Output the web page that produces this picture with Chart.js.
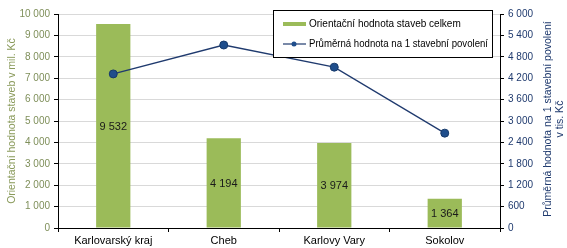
<!DOCTYPE html>
<html>
<head>
<meta charset="utf-8">
<script src="https://cdn.jsdelivr.net/npm/chart.js@4/dist/chart.umd.min.js"></script>
<style>
    html, body { margin: 0; padding: 0; background: #fff; }
    #wrap { width: 567px; height: 248px; }
</style>
</head>
<body>
<div id="wrap"><canvas id="chart"></canvas></div>
<script>
const categories = ["Karlovarský kraj", "Cheb", "Karlovy Vary", "Sokolov"];
const totalValues = [9532, 4194, 3974, 1364];
const averageValues = [4320, 5130, 4510, 2660];
const seriesNames = ["Orientační hodnota staveb celkem", "Průměrná hodnota na 1 stavební povolení"];
const rightTitle = ["Průměrná hodnota na 1 stavební povolení", "v tis. Kč"];

const FONT = "'Liberation Sans', Arial, sans-serif";
const fmt = v => String(v).replace(/\B(?=(\d{3})+(?!\d))/g, " ");

// bar values written in the middle of each bar
const barLabels = {
    id: "barLabels",
    afterDatasetsDraw(chart) {
        const ctx = chart.ctx;
        const meta = chart.getDatasetMeta(1);
        ctx.save();
        ctx.font = "11px " + FONT;
        ctx.fillStyle = "#1a1a1a";
        ctx.textAlign = "center";
        ctx.textBaseline = "middle";
        meta.data.forEach((bar, i) => {
            ctx.fillText(fmt(totalValues[i]), bar.x, (bar.y + bar.base) / 2 + 1);
        });
        ctx.restore();
    }
};

// right axis title, read bottom-to-top like the left one
const rightAxisTitle = {
    id: "rightAxisTitle",
    afterDraw(chart) {
        const ctx = chart.ctx;
        const area = chart.chartArea;
        const cy = (area.top + area.bottom) / 2 - 2;
        ctx.save();
        ctx.font = "10.5px " + FONT;
        ctx.fillStyle = "#1f3a6e";
        ctx.textAlign = "center";
        ctx.textBaseline = "middle";
        ctx.translate(548, cy);
        ctx.rotate(-Math.PI / 2);
        ctx.fillText(rightTitle[0], 0, 0);
        ctx.fillText(rightTitle[1], 0, 12);
        ctx.restore();
    }
};

// legend box inside the plot area
const boxLegend = {
    id: "boxLegend",
    afterDraw(chart) {
        const ctx = chart.ctx;
        const x = 273, y = 10, w = 219, h = 47;
        ctx.save();
        ctx.fillStyle = "#fff";
        ctx.fillRect(x, y, w, h);
        ctx.strokeStyle = "#000";
        ctx.lineWidth = 1;
        ctx.strokeRect(x + 0.5, y + 0.5, w, h);
        ctx.font = "10px " + FONT;
        ctx.textBaseline = "middle";
        // bar entry
        ctx.fillStyle = "#9bbb59";
        ctx.fillRect(x + 10, y + 12, 23, 4);
        ctx.fillStyle = "#000";
        ctx.fillText(seriesNames[0], x + 36, y + 14);
        // line entry
        ctx.strokeStyle = "#1f3a6e";
        ctx.lineWidth = 1.2;
        ctx.beginPath();
        ctx.moveTo(x + 10, y + 34);
        ctx.lineTo(x + 33, y + 34);
        ctx.stroke();
        ctx.fillStyle = "#1f4e8c";
        ctx.beginPath();
        ctx.arc(x + 21, y + 34, 2.5, 0, Math.PI * 2);
        ctx.fill();
        ctx.fillStyle = "#000";
        ctx.fillText(seriesNames[1], x + 36, y + 34, w - 40);
        ctx.restore();
    }
};

new Chart(document.getElementById("chart"), {
    type: "bar",
    data: {
        labels: categories,
        datasets: [
            {
                type: "line",
                label: seriesNames[1],
                data: averageValues,
                yAxisID: "y2",
                borderColor: "#1f3a6e",
                borderWidth: 1.3,
                pointRadius: 4,
                pointBackgroundColor: "#1f4e8c",
                pointBorderColor: "#173a6a",
                pointBorderWidth: 1,
                order: 0
            },
            {
                label: seriesNames[0],
                data: totalValues,
                yAxisID: "y",
                backgroundColor: "#9bbb59",
                categoryPercentage: 1,
                barPercentage: 0.31,
                order: 1
            }
        ]
    },
    options: {
        responsive: true,
        maintainAspectRatio: false,
        animation: false,
        layout: { padding: { top: 14, left: 6, right: 0, bottom: 0 } },
        plugins: {
            legend: { display: false },
            tooltip: { enabled: false }
        },
        scales: {
            x: {
                grid: { display: true, drawOnChartArea: false, color: "#000", tickLength: 4, offset: true },
                border: { color: "#000" },
                ticks: { color: "#000", font: { size: 11, family: FONT }, padding: 2, maxRotation: 0 },
                afterFit: s => { s.height = 20; }
            },
            y: {
                position: "left",
                min: 0, max: 10000,
                ticks: { stepSize: 1000, color: "#7f8f5a", font: { size: 10, family: FONT }, padding: 4, callback: v => fmt(v) },
                grid: { color: "#d9d9d9", tickLength: 4, tickColor: "#000" },
                border: { color: "#000" },
                title: { display: true, text: "Orientační hodnota staveb v mil. Kč", color: "#8a9a5b", font: { size: 10.5, family: FONT }, padding: 0 },
                afterFit: s => { s.width = 52; }
            },
            y2: {
                position: "right",
                min: 0, max: 6000,
                ticks: { stepSize: 600, color: "#1f3a6e", font: { size: 10, family: FONT }, padding: 4, callback: v => fmt(v) },
                grid: { drawOnChartArea: false, tickLength: 4, color: "#000" },
                border: { color: "#000" },
                afterFit: s => { s.width = 67; }
            }
        }
    },
    plugins: [barLabels, rightAxisTitle, boxLegend]
});
</script>
</body>
</html>
